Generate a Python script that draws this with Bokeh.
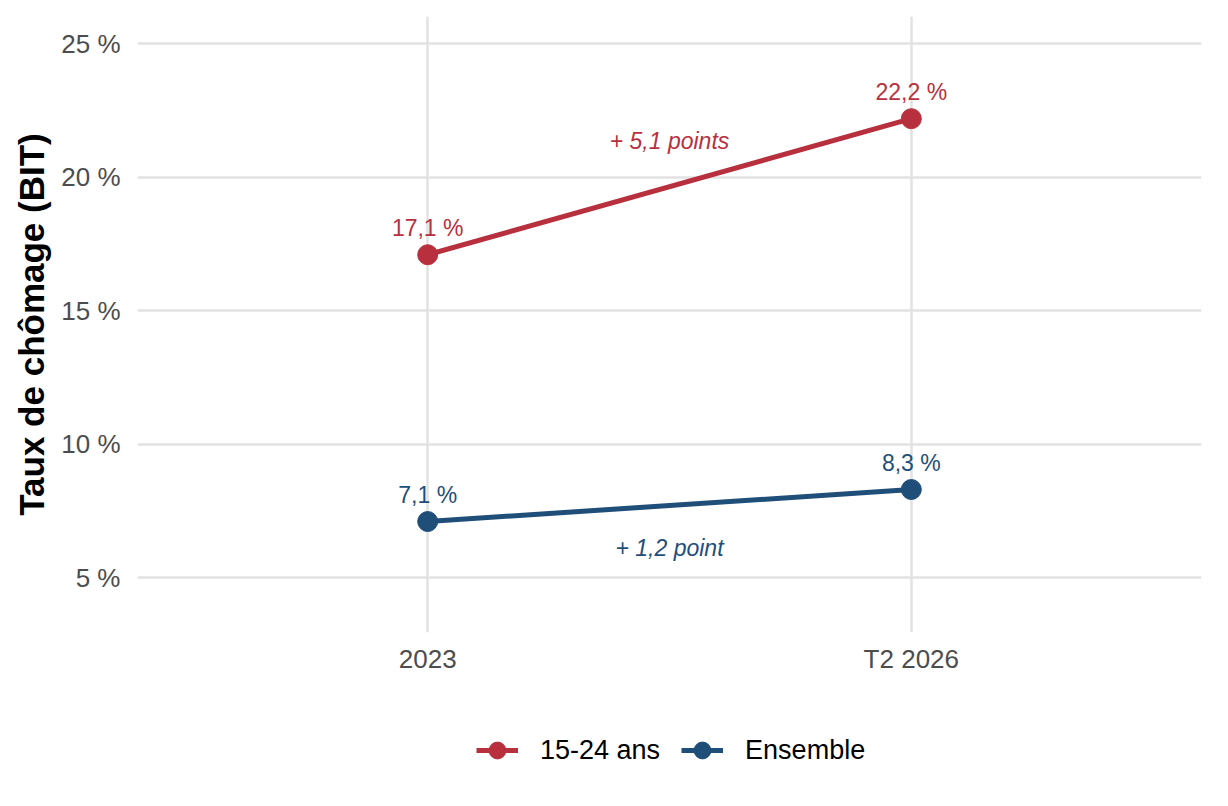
from bokeh.plotting import figure
from bokeh.layouts import column
from bokeh.models import ColumnDataSource, Legend, LegendItem, FixedTicker, Range1d, LabelSet
from bokeh.embed import file_html
from bokeh.resources import INLINE
from bokeh.core.properties import value

periods = ["2023", "T2 2026"]
jeunes = [17.1, 22.2]
ensemble = [7.1, 8.3]
series_names = ["15-24 ans", "Ensemble"]
jeunes_labels = ["17,1 %", "22,2 %"]
ensemble_labels = ["7,1 %", "8,3 %"]
ecarts = ["+ 5,1 points", "+ 1,2 point"]
y_ticks = [5, 10, 15, 20, 25]

RED = "#B8303E"
BLUE = "#1F4E79"
FONT = "Liberation Sans"
FULL_W = 1221

xs = list(range(len(periods)))

p = figure(frame_width=1064, frame_height=616, output_backend="svg", toolbar_location=None,
           x_range=Range1d(-0.6, 1.6), y_range=Range1d(2.94, 26.03),
           min_border_left=137, min_border_top=16, min_border_right=20,
           min_border_bottom=60)
p.outline_line_color = None
p.background_fill_color = "white"
p.border_fill_color = "white"

for ax in (p.xaxis[0], p.yaxis[0]):
    ax.axis_line_color = None
    ax.major_tick_line_color = None
    ax.minor_tick_line_color = None
    ax.major_label_text_font = FONT
    ax.major_label_text_font_size = "26px"
    ax.major_label_text_color = "#4D4D4D"

p.xaxis.ticker = FixedTicker(ticks=xs)
p.xaxis.major_label_overrides = {i: s for i, s in enumerate(periods)}
p.xaxis.major_label_standoff = 5
p.yaxis.ticker = FixedTicker(ticks=y_ticks)
p.yaxis.major_label_overrides = {t: f"{t} %" for t in y_ticks}
p.yaxis.major_label_standoff = 11
p.yaxis.axis_label = "Taux de chômage (BIT)"
p.yaxis.axis_label_text_font = FONT
p.yaxis.axis_label_text_font_size = "35px"
p.yaxis.axis_label_text_font_style = "bold"
p.yaxis.axis_label_text_color = "black"
p.yaxis.axis_label_standoff = 7

for g in (p.xgrid[0], p.ygrid[0]):
    g.grid_line_color = "#E2E2E2"
    g.grid_line_width = 2.5
p.ygrid.ticker = FixedTicker(ticks=y_ticks)
p.xgrid.ticker = FixedTicker(ticks=xs)

src_j = ColumnDataSource(dict(x=xs, y=jeunes, lab=jeunes_labels,
                              ly=[v + 1.0 for v in jeunes]))
src_e = ColumnDataSource(dict(x=xs, y=ensemble, lab=ensemble_labels,
                              ly=[v + 1.0 for v in ensemble]))

p.line("x", "y", source=src_j, line_color=RED, line_width=5)
p.scatter("x", "y", source=src_j, size=20, fill_color=RED, line_color=RED)
p.line("x", "y", source=src_e, line_color=BLUE, line_width=5)
p.scatter("x", "y", source=src_e, size=20, fill_color=BLUE, line_color=BLUE)

for src, col in ((src_j, RED), (src_e, BLUE)):
    p.add_layout(LabelSet(x="x", y="ly", text="lab", source=src,
                          text_align="center", text_baseline="middle",
                          text_font=value(FONT), text_font_size="23px",
                          text_color=col))

mid_x = sum(xs) / len(xs)
ann = ColumnDataSource(dict(
    x=[mid_x, mid_x],
    y=[(jeunes[0] + jeunes[1]) / 2 + 1.7, (ensemble[0] + ensemble[1]) / 2 - 1.6],
    t=ecarts, c=[RED, BLUE]))
p.text("x", "y", text="t", source=ann, text_color="c", text_align="center",
       text_baseline="middle", text_font=value(FONT), text_font_size="23px",
       text_font_style="italic")

# Legend panel (separate figure below the chart); its ranges keep the
# series out of view so only the legend shows.
lg = figure(width=FULL_W, height=100, output_backend="svg", toolbar_location=None,
            min_border=0, x_range=Range1d(100, 101), y_range=Range1d(100, 101))
lg.outline_line_color = None
lg.axis.visible = False
lg.grid.visible = False
r1 = lg.line("x", "y", source=src_j, line_color=RED, line_width=5)
r2 = lg.scatter("x", "y", source=src_j, size=20, fill_color=RED, line_color=RED)
r3 = lg.line("x", "y", source=src_e, line_color=BLUE, line_width=5)
r4 = lg.scatter("x", "y", source=src_e, size=20, fill_color=BLUE, line_color=BLUE)

legend = Legend(items=[LegendItem(label=series_names[0], renderers=[r1, r2]),
                       LegendItem(label=series_names[1], renderers=[r3, r4])],
                orientation="horizontal", location=(339, 17),
                label_text_font=FONT, label_text_font_size="27px",
                label_text_color="black", border_line_color=None,
                background_fill_alpha=0, glyph_width=42, glyph_height=50,
                spacing=21, label_standoff=22, margin=0, padding=5)
lg.add_layout(legend)

layout = column(p, lg, spacing=0)
open("out.html", "w").write(file_html(layout, INLINE))
